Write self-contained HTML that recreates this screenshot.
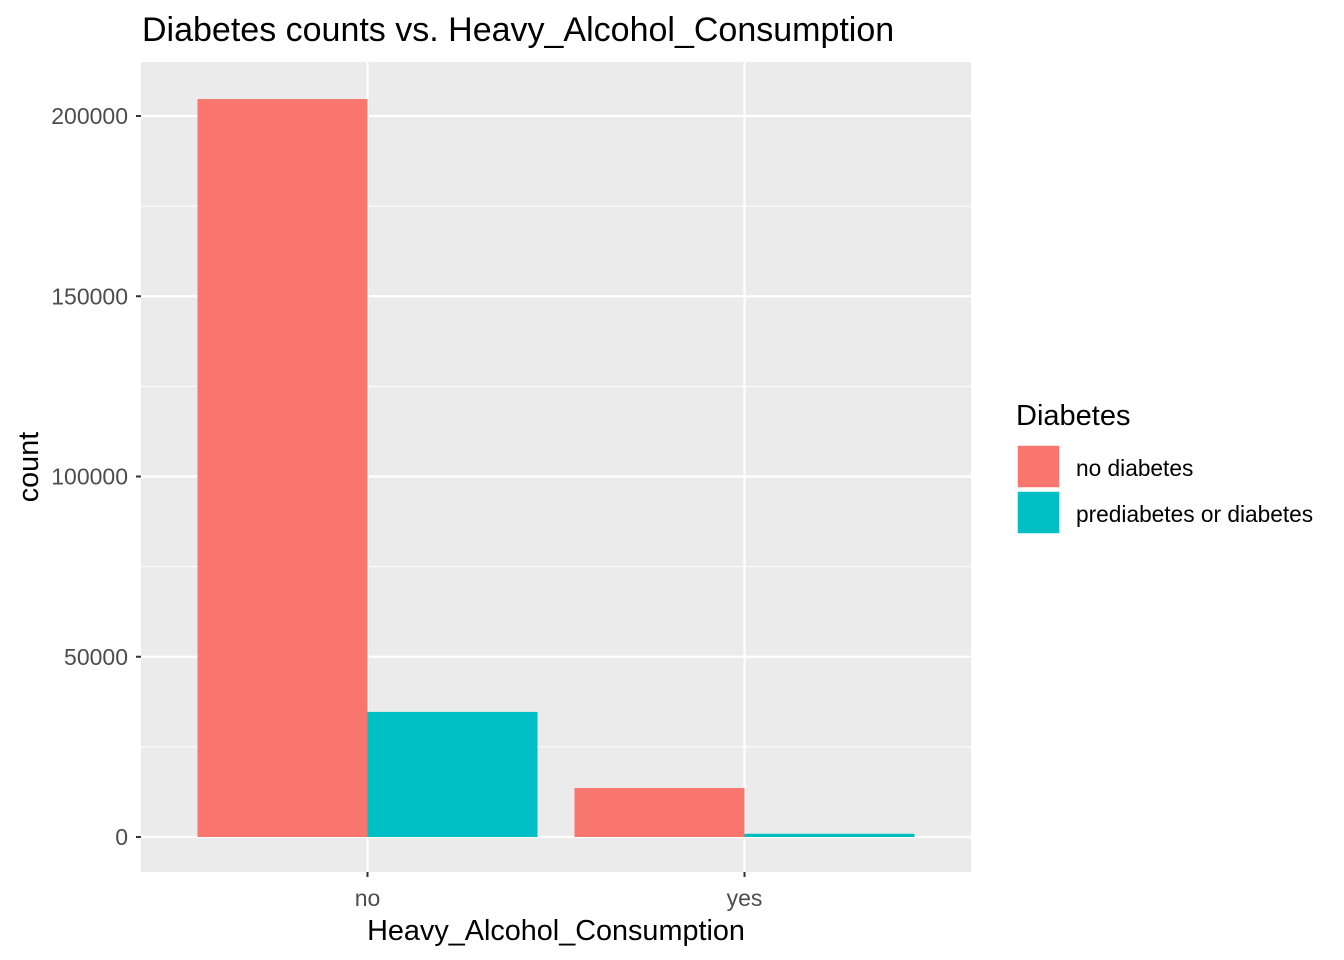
<!DOCTYPE html>
<html><head><meta charset="utf-8"><style>
body{margin:0;background:#fff;}
svg{display:block;font-family:"Liberation Sans",Arial,sans-serif;}
</style></head><body>
<svg id="chart" width="1344" height="960"></svg>
<script>
const categories=["no","yes"];
const seriesNames=["no diabetes","prediabetes or diabetes"];
const noDiabetes=[204700,13600];
const prediabetes=[34700,900];
const yTicks=[0,50000,100000,150000,200000];
const colors=["#F8766D","#00BFC4"];
const NS="http://www.w3.org/2000/svg";
const svg=document.getElementById('chart');
const P={l:141,r:971,t:62,b:872};
const y=v=>837-v*(721/200000);
const xc=i=>367.5+i*377;
function mk(tag,attrs,parent){const e=document.createElementNS(NS,tag);for(const k in attrs)e.setAttribute(k,attrs[k]);(parent||svg).appendChild(e);return e;}
const panel=mk('rect',{x:P.l,y:P.t,width:P.r-P.l,height:P.b-P.t,fill:'#EBEBEB'});


for(let i=0;i<yTicks.length-1;i++){const m=(yTicks[i]+yTicks[i+1])/2;const g=mk('line',{x1:P.l,x2:P.r,y1:y(m),y2:y(m),stroke:'#fff','stroke-width':1.1});

}
yTicks.forEach(t=>{const g=mk('line',{x1:P.l,x2:P.r,y1:y(t),y2:y(t),stroke:'#fff','stroke-width':2.2});


const tk=mk('line',{x1:P.l-5,x2:P.l,y1:y(t),y2:y(t),stroke:'#333','stroke-width':2});


const tx=mk('text',{x:P.l-13,y:y(t)+8,'text-anchor':'end','font-size':23,fill:'#4D4D4D'});tx.textContent=t;

});
categories.forEach((c,i)=>{const g=mk('line',{x1:xc(i),x2:xc(i),y1:P.t,y2:P.b,stroke:'#fff','stroke-width':2.2});


const tk=mk('line',{x1:xc(i),x2:xc(i),y1:P.b,y2:P.b+5,stroke:'#333','stroke-width':2});


const tx=mk('text',{x:xc(i),y:P.b+34,'text-anchor':'middle','font-size':23,fill:'#4D4D4D'});tx.textContent=c;


[noDiabetes,prediabetes].forEach((s,j)=>{const w=170;const x0=xc(i)-w+j*w;const r=mk('rect',{x:x0,y:y(s[i]),width:w,height:y(0)-y(s[i]),fill:colors[j]});

});});
function txt(s,a,name){const t=mk('text',a);t.textContent=s;return t;}
txt('Diabetes counts vs. Heavy_Alcohol_Consumption',{x:142,y:41,'font-size':34,fill:'#000'},'chart-title');
txt('Heavy_Alcohol_Consumption',{x:556,y:940,'text-anchor':'middle','font-size':28.8,fill:'#000'},'x-axis-title');
txt('count',{x:38,y:467,'text-anchor':'middle','font-size':28.8,fill:'#000',transform:'rotate(-90 38 467)'},'y-axis-title');
txt('Diabetes',{x:1016,y:425,'font-size':29,fill:'#000'},'legend-title');
seriesNames.forEach((n,j)=>{const r=mk('rect',{x:1017,y:445+j*46,width:43,height:43,fill:colors[j],stroke:'#fff','stroke-width':1.5});


txt(n,{x:1076,y:476+j*46,'font-size':22.7,fill:'#000'},'legend-label');});
</script>
</body></html>
